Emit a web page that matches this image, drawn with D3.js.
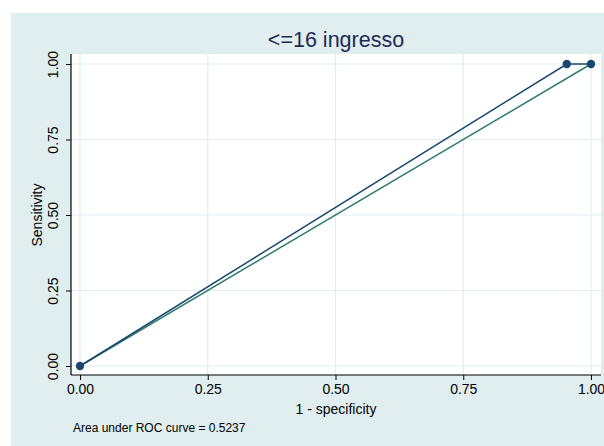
<!DOCTYPE html>
<html>
<head>
<meta charset="utf-8">
<script src="https://cdn.jsdelivr.net/npm/d3@7"></script>
<style>
  body { margin: 0; background: #fff; }
  text { font-family: "Liberation Sans", Arial, sans-serif; }
</style>
</head>
<body>
<svg></svg>
<script>
var width = 604,
    height = 446;

// data
var fpr = [0, 0.9526, 1];   // 1 - specificity
var tpr = [0, 1, 1];        // sensitivity
var refLine = [0, 1];
var ticks = [0, 0.25, 0.5, 0.75, 1];
var title = "<=16 ingresso";
var aucText = "Area under ROC curve = 0.5237";

var svg = d3.select("svg")
    .attr("width", width)
    .attr("height", height);

// outer background
svg.append("rect")
    .attr("x", 11).attr("y", 13)
    .attr("width", width - 11).attr("height", height - 13)
    .attr("fill", "#e1eef0");

// plot region
var plot = {left: 71, right: 601, top: 54, bottom: 375};
svg.append("rect")
    .attr("x", plot.left).attr("y", plot.top)
    .attr("width", plot.right - plot.left).attr("height", plot.bottom - plot.top)
    .attr("fill", "#fff");

var x = d3.scaleLinear().domain([0, 1]).range([80, 591]);
var y = d3.scaleLinear().domain([0, 1]).range([366, 64]);

// grid
svg.append("g").selectAll("line")
    .data(ticks).enter().append("line")
    .attr("x1", d => x(d)).attr("x2", d => x(d))
    .attr("y1", plot.top).attr("y2", plot.bottom)
    .attr("stroke", "#e1eef0").attr("stroke-width", 1.2);
svg.append("g").selectAll("line")
    .data(ticks).enter().append("line")
    .attr("y1", d => y(d)).attr("y2", d => y(d))
    .attr("x1", plot.left).attr("x2", plot.right)
    .attr("stroke", "#e1eef0").attr("stroke-width", 1.2);

// axes
var xAxis = d3.axisBottom(x).tickValues(ticks).tickFormat(d3.format(".2f")).tickSize(5).tickPadding(4);
var gx = svg.append("g")
    .attr("transform", "translate(0," + plot.bottom + ")")
    .call(xAxis);
gx.select(".domain").remove();
gx.append("line").attr("x1", plot.left).attr("x2", plot.right)
    .attr("stroke", "#000").attr("stroke-width", 1.2);
gx.selectAll(".tick line").attr("stroke", "#000");
gx.selectAll(".tick text").attr("font-size", 14).attr("fill", "#000")
    .attr("font-family", "Liberation Sans, Arial, sans-serif");

var yAxis = d3.axisLeft(y).tickValues(ticks).tickFormat(d3.format(".2f")).tickSize(5).tickPadding(0);
var gy = svg.append("g")
    .attr("transform", "translate(" + plot.left + ",0)")
    .call(yAxis);
gy.select(".domain").remove();
gy.append("line").attr("y1", plot.top).attr("y2", plot.bottom)
    .attr("stroke", "#000").attr("stroke-width", 1.2);
gy.selectAll(".tick line").attr("stroke", "#000");
gy.selectAll(".tick text")
    .attr("font-size", 14).attr("fill", "#000")
    .attr("font-family", "Liberation Sans, Arial, sans-serif")
    .attr("x", null).attr("dy", null)
    .attr("text-anchor", "middle")
    .attr("transform", "translate(-13,0) rotate(-90)");

// reference line
svg.append("line")
    .attr("x1", x(refLine[0])).attr("y1", y(refLine[0]))
    .attr("x2", x(refLine[1])).attr("y2", y(refLine[1]))
    .attr("stroke", "#2e7d6b").attr("stroke-width", 1.5);

// ROC curve
var pts = fpr.map((d, i) => [d, tpr[i]]);
svg.append("path")
    .datum(pts)
    .attr("d", d3.line().x(d => x(d[0])).y(d => y(d[1])))
    .attr("fill", "none")
    .attr("stroke", "#1a476f").attr("stroke-width", 1.5);
svg.append("g").selectAll("circle")
    .data(pts).enter().append("circle")
    .attr("cx", d => x(d[0])).attr("cy", d => y(d[1]))
    .attr("r", 4.2).attr("fill", "#1a476f");

// titles
svg.append("text")
    .attr("x", 336).attr("y", 47)
    .attr("text-anchor", "middle")
    .attr("font-size", 21.5).attr("fill", "#1e2a55")
    .text(title);
svg.append("text")
    .attr("x", 336).attr("y", 414)
    .attr("text-anchor", "middle")
    .attr("font-size", 14).attr("fill", "#000")
    .text("1 - specificity");
svg.append("text")
    .attr("transform", "translate(42,215) rotate(-90)")
    .attr("text-anchor", "middle")
    .attr("font-size", 14).attr("fill", "#000")
    .text("Sensitivity");
svg.append("text")
    .attr("x", 73).attr("y", 432)
    .attr("font-size", 12).attr("fill", "#000")
    .text(aucText);
</script>
</body>
</html>
